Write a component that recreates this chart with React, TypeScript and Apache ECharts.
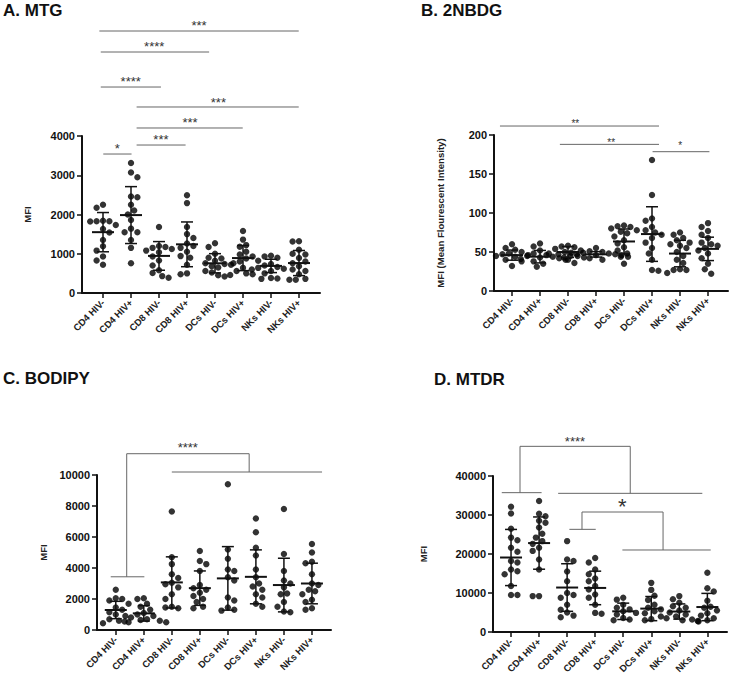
import { useEffect, useRef } from "react";
import * as echarts from "echarts";

const categories = ["CD4 HIV-", "CD4 HIV+", "CD8 HIV-", "CD8 HIV+", "DCs HIV-", "DCs HIV+", "NKs HIV-", "NKs HIV+"];

// ---------- A. MTG ----------
const mtgValues: number[][] = [
  [2250, 2170, 1840, 1830, 1830, 1820, 1730, 1630, 1540, 1350, 1190, 1080, 930, 830, 720],
  [3310, 3070, 2950, 2460, 2440, 2250, 2100, 2000, 1860, 1640, 1550, 1550, 1350, 1150, 760],
  [1680, 1200, 1170, 1150, 1120, 1080, 1040, 930, 830, 700, 580, 510, 430, 390],
  [2490, 2290, 1680, 1500, 1400, 1260, 1200, 1150, 1050, 940, 900, 720, 500, 480],
  [1270, 1170, 1000, 900, 880, 820, 760, 740, 720, 680, 650, 560, 520, 450, 420],
  [1580, 1360, 1220, 1180, 1050, 980, 930, 880, 800, 760, 640, 560, 500, 480, 460],
  [950, 930, 900, 820, 740, 700, 660, 640, 620, 600, 560, 500, 380, 370, 360],
  [1320, 1310, 1100, 1000, 980, 890, 800, 760, 680, 600, 560, 480, 360, 340, 340],
];
const mtgMeans = [1550, 1985, 945, 1240, 757, 890, 690, 763];
const mtgSD = [500, 725, 365, 570, 245, 320, 170, 320];
const mtgLines: number[][][] = [
  [[0.01, 3541], [1.02, 3541]],
  [[1.2, 3770], [2.95, 3770]],
  [[1.2, 4204], [4.99, 4204]],
  [[1.2, 4739], [6.99, 4739]],
  [[-0.08, 5248], [2.07, 5248]],
  [[-0.08, 6140], [3.79, 6140]],
  [[-0.13, 6675], [6.99, 6675]],
];
const mtgStars: [number, number, string][] = [
  [0.51, 3753, "*"],
  [2.07, 3982, "***"],
  [3.11, 4408, "***"],
  [4.12, 4935, "***"],
  [0.99, 5452, "****"],
  [1.83, 6352, "****"],
  [3.43, 6886, "***"],
];

// ---------- B. 2NBDG ----------
const nbdgValues: number[][] = [
  [60, 55, 53, 50, 48, 47, 46, 45, 44, 42, 40, 38, 32],
  [61, 57, 52, 48, 46, 45, 44, 43, 42, 41, 40, 38, 35, 31],
  [58, 57, 56, 54, 52, 50, 49, 48, 47, 45, 43, 40, 36],
  [55, 51, 50, 49, 48, 47, 47, 46, 46, 45, 44, 43, 42, 40],
  [84, 83, 82, 80, 78, 76, 74, 70, 65, 61, 56, 52, 48, 44, 35],
  [168, 123, 93, 90, 82, 78, 75, 72, 68, 62, 55, 48, 40, 27, 26],
  [75, 72, 68, 65, 62, 60, 58, 55, 50, 45, 40, 36, 28, 27, 27, 23],
  [87, 82, 77, 72, 68, 62, 60, 58, 55, 52, 48, 42, 35, 28, 22],
];
const nbdgMeans = [46, 44, 50, 47, 63.5, 73, 48, 54];
const nbdgSD = [6.5, 8, 7, 3.5, 16, 35, 17, 15];
const nbdgLines: number[][][] = [
  [[-0.43, 211.5], [5.25, 211.5]],
  [[1.71, 188], [5.25, 188]],
  [[5.02, 178.6], [7.05, 178.6]],
];
const nbdgStars: [number, number, string][] = [
  [2.26, 217, "**"],
  [3.54, 193.6, "**"],
  [6.01, 189, "*"],
];

// ---------- C. BODIPY ----------
const bodipyValues: number[][] = [
  [2600, 2050, 2000, 1900, 1700, 1450, 1300, 1150, 1000, 900, 700, 600, 500, 430],
  [2050, 2000, 1700, 1500, 1300, 1100, 1000, 900, 800, 700, 650, 600, 550, 500],
  [7640, 4700, 4250, 3600, 3350, 3050, 2950, 2750, 2300, 2000, 1500, 1450, 1400],
  [5100, 4450, 4250, 3800, 2900, 2700, 2600, 2400, 2200, 2000, 1800, 1500, 1400],
  [9400, 5200, 4600, 3900, 3800, 3400, 3200, 2100, 1900, 1450, 1300, 1250],
  [7200, 6300, 5300, 4800, 3900, 3400, 3000, 2800, 2600, 2300, 2100, 1700, 1500],
  [7800, 4900, 3800, 3200, 3000, 2750, 2350, 2300, 1800, 1500, 1200, 1150],
  [5550, 5000, 4400, 4300, 3600, 3000, 2900, 2600, 2500, 2300, 1950, 1800, 1400, 1300],
];
const bodipyMeans = [1290, 1073, 3070, 2700, 3330, 3430, 2900, 3000];
const bodipySD = [560, 500, 1650, 1110, 2050, 1740, 1730, 1310];
const bodipyLines: number[][][] = [
  [[-0.18, 3433], [1.02, 3433]],
  [[0.39, 3433], [0.39, 11373], [4.76, 11373], [4.76, 10193]],
  [[2.0, 10193], [7.36, 10193]],
];
const bodipyStars: [number, number, string][] = [[2.57, 11932, "****"]];

// ---------- D. MTDR ----------
const mtdrValues: number[][] = [
  [32100, 30400, 26500, 24200, 23500, 21600, 20600, 18200, 17800, 16000, 15600, 14800, 11800, 9500, 9500],
  [33600, 30300, 29700, 28500, 28000, 26800, 25200, 24200, 23300, 22600, 21600, 20800, 18600, 16000, 9200, 9200],
  [23300, 18600, 18200, 15500, 13000, 10000, 9500, 8800, 7000, 5700, 5000, 4200, 3800],
  [19000, 17800, 16000, 14800, 13700, 13000, 11800, 10900, 9600, 8800, 7000, 4900, 4700],
  [8800, 8300, 7000, 6200, 5800, 5300, 4900, 4500, 3600, 3200, 3000],
  [12600, 10800, 9300, 8200, 7000, 6200, 5800, 5300, 4800, 4000, 3300, 3000],
  [9200, 8400, 7500, 6600, 6200, 5500, 5000, 4500, 4000, 3500, 3200, 3000, 2700],
  [15200, 11200, 10400, 8000, 6500, 6200, 5500, 4800, 4200, 3500, 3000, 2800],
];
const mtdrMeans = [19100, 22800, 11400, 11300, 5300, 6000, 5250, 6400];
const mtdrSD = [7200, 6700, 6100, 4300, 2100, 3100, 1950, 3500];
const mtdrLines: number[][][] = [
  [[-0.33, 35726], [1.09, 35726]],
  [[0.32, 35726], [0.32, 47607], [4.25, 47607], [4.25, 35556]],
  [[1.68, 35556], [6.82, 35556]],
  [[2.08, 26325], [3.02, 26325]],
  [[2.53, 26325], [2.53, 30769], [5.42, 30769], [5.42, 21026]],
  [[3.97, 21026], [7.12, 21026]],
];
const mtdrStars: [number, number, string][] = [
  [2.28, 49658, "****"],
  [3.97, 33419, "*"],
];

const FONT = "'Liberation Sans', Arial, Helvetica, sans-serif";

type Layout = {
  title: string;
  titleLeft: number;
  titleTop: number;
  grid: { left: number; top: number; width: number; height: number };
  xMin: number;
  xMax: number;
  yMax: number;
  yInterval: number;
  yName: string;
  nameGap: number;
  nameSize: number;
  starFonts: number[];
};

const panels = [
  { values: mtgValues, means: mtgMeans, sd: mtgSD, lines: mtgLines, stars: mtgStars },
  { values: nbdgValues, means: nbdgMeans, sd: nbdgSD, lines: nbdgLines, stars: nbdgStars },
  { values: bodipyValues, means: bodipyMeans, sd: bodipySD, lines: bodipyLines, stars: bodipyStars },
  { values: mtdrValues, means: mtdrMeans, sd: mtdrSD, lines: mtdrLines, stars: mtdrStars },
];

const layouts: Layout[] = [
  { title: "A. MTG", titleLeft: 3, titleTop: 2, grid: { left: 82, top: 136, width: 238, height: 157 }, xMin: -0.75, xMax: 7.75, yMax: 4000, yInterval: 1000, yName: "MFI", nameGap: 50, nameSize: 9.5, starFonts: [13, 13, 13, 13, 13, 13, 13] },
  { title: "B. 2NBDG", titleLeft: 421, titleTop: 2, grid: { left: 494, top: 135, width: 234, height: 156 }, xMin: -0.643, xMax: 7.714, yMax: 200, yInterval: 50, yName: "MFI (Mean Flourescent Intensity)", nameGap: 49, nameSize: 9.6, starFonts: [10, 10, 10] },
  { title: "C. BODIPY", titleLeft: 3, titleTop: 370, grid: { left: 97, top: 475, width: 234, height: 155 }, xMin: -0.67, xMax: 7.68, yMax: 10000, yInterval: 2000, yName: "MFI", nameGap: 49, nameSize: 9.5, starFonts: [13] },
  { title: "D. MTDR", titleLeft: 434, titleTop: 371, grid: { left: 493, top: 476, width: 234, height: 156 }, xMin: -0.643, xMax: 7.7, yMax: 40000, yInterval: 10000, yName: "MFI", nameGap: 65, nameSize: 9.5, starFonts: [13, 22] },
];

const DOT = 6.4;

function swarm(vals: number[], pxPerY: number, pxPerX: number): number[][] {
  const sorted = [...vals].sort((a, b) => b - a);
  const placed: { x: number; y: number }[] = [];
  const out: number[][] = [];
  const step = DOT * 0.5;
  sorted.forEach((v, idx) => {
    const y = v * pxPerY;
    let chosen = 0;
    const dir = idx % 2 === 0 ? 1 : -1;
    for (let k = 0; k < 30; k++) {
      const cand = k === 0 ? 0 : (k % 2 ? dir : -dir) * Math.ceil(k / 2) * step;
      if (placed.every((p) => Math.hypot(p.x - cand, p.y - y) >= DOT * 0.98)) {
        chosen = cand;
        break;
      }
    }
    placed.push({ x: chosen, y });
    out.push([chosen / pxPerX, v]);
  });
  return out;
}

function buildOption() {
  const grids: any[] = [];
  const xAxes: any[] = [];
  const yAxes: any[] = [];
  const titles: any[] = [];
  const series: any[] = [];
  const ticks = categories.map((_, i) => i);

  panels.forEach((p, pi) => {
    const L = layouts[pi];
    grids.push({ ...L.grid, containLabel: false, outerBoundsMode: "none" });
    titles.push({
      text: L.title,
      left: L.titleLeft,
      top: L.titleTop,
      padding: 0,
      textStyle: { fontFamily: FONT, fontSize: 17, fontWeight: "bold", color: "#111" },
    });
    xAxes.push({
      type: "value",
      gridIndex: pi,
      min: L.xMin,
      max: L.xMax,
      splitLine: { show: false },
      axisLine: { show: true, onZero: false, lineStyle: { color: "#111", width: 2 } },
      axisTick: { show: true, customValues: ticks, length: 5, lineStyle: { color: "#111", width: 1.5 } },
      axisLabel: {
        show: true,
        customValues: ticks,
        formatter: (v: number) => categories[Math.round(v)] ?? "",
        rotate: 45,
        margin: 8,
        fontFamily: FONT,
        fontSize: 9.5,
        fontWeight: "bold",
        color: "#222",
      },
    });
    yAxes.push({
      type: "value",
      gridIndex: pi,
      min: 0,
      max: L.yMax,
      interval: L.yInterval,
      splitLine: { show: false },
      axisLine: { show: true, onZero: false, lineStyle: { color: "#111", width: 2 } },
      axisTick: { show: true, length: 5, lineStyle: { color: "#111", width: 1.5 } },
      axisLabel: {
        fontFamily: FONT,
        fontSize: 11,
        fontWeight: "bold",
        color: "#111",
        margin: 7,
        formatter: (v: number) => String(v),
      },
      name: L.yName,
      nameLocation: "middle",
      nameRotate: 90,
      nameGap: L.nameGap,
      nameTextStyle: { fontFamily: FONT, fontSize: L.nameSize, fontWeight: "bold", color: "#222" },
    });

    const pxPerY = L.grid.height / L.yMax;
    const pxPerX = L.grid.width / (L.xMax - L.xMin);
    const pts: number[][] = [];
    p.values.forEach((vals, gi) => {
      swarm(vals, pxPerY, pxPerX).forEach(([dx, v]) => pts.push([gi + dx, v]));
    });
    series.push({
      type: "scatter",
      xAxisIndex: pi,
      yAxisIndex: pi,
      data: pts,
      symbol: "circle",
      symbolSize: DOT,
      itemStyle: { color: "#000" },
      z: 3,
    });

    series.push({
      type: "custom",
      xAxisIndex: pi,
      yAxisIndex: pi,
      data: p.means.map((m, i) => [i, m, p.sd[i]]),
      encode: { x: 0, y: 1 },
      z: 4,
      renderItem: (_params: any, api: any) => {
        const i = api.value(0);
        const m = api.value(1);
        const s = api.value(2);
        const c = api.coord([i, m]);
        const t = api.coord([i, m + s]);
        const b = api.coord([i, Math.max(0, m - s)]);
        const st = { stroke: "#111", lineWidth: 1.5 };
        return {
          type: "group",
          children: [
            { type: "line", shape: { x1: c[0], y1: t[1], x2: c[0], y2: b[1] }, style: st },
            { type: "line", shape: { x1: c[0] - 6, y1: t[1], x2: c[0] + 6, y2: t[1] }, style: st },
            { type: "line", shape: { x1: c[0] - 6, y1: b[1], x2: c[0] + 6, y2: b[1] }, style: st },
            { type: "line", shape: { x1: c[0] - 11, y1: c[1], x2: c[0] + 11, y2: c[1] }, style: { stroke: "#111", lineWidth: 2 } },
          ],
        };
      },
    });

    const lines = p.lines;
    series.push({
      type: "custom",
      xAxisIndex: pi,
      yAxisIndex: pi,
      data: lines.map((l) => [l[0][0], l[0][1]]),
      encode: { x: 0, y: 1 },
      clip: false,
      z: 2,
      renderItem: (params: any, api: any) => {
        const l = lines[params.dataIndex];
        const points = l.map((q) => api.coord(q));
        return {
          type: "polyline",
          shape: { points },
          style: { stroke: "#666", lineWidth: 1, fill: "none" },
        };
      },
    });

    const stars = p.stars;
    series.push({
      type: "custom",
      xAxisIndex: pi,
      yAxisIndex: pi,
      data: stars.map((s) => [s[0], s[1]]),
      encode: { x: 0, y: 1 },
      clip: false,
      z: 2,
      renderItem: (params: any, api: any) => {
        const s = stars[params.dataIndex];
        const fs = L.starFonts[params.dataIndex] ?? 13;
        const c = api.coord([s[0], s[1]]);
        return {
          type: "text",
          x: c[0],
          y: c[1] + fs * 0.22,
          style: {
            text: s[2],
            fontSize: fs,
            fontFamily: FONT,
            fill: "#333",
            align: "center",
            verticalAlign: "middle",
          },
        };
      },
    });
  });

  return {
    animation: false,
    backgroundColor: "#fff",
    textStyle: { fontFamily: FONT },
    title: titles,
    grid: grids,
    xAxis: xAxes,
    yAxis: yAxes,
    series,
  };
}

export default function App() {
  const ref = useRef<HTMLDivElement>(null);
  useEffect(() => {
    if (!ref.current) return;
    const chart = echarts.init(ref.current, undefined, { renderer: "svg" });
    chart.setOption(buildOption() as any);
    return () => chart.dispose();
  }, []);
  return <div ref={ref} style={{ position: "absolute", left: 0, top: 0, width: 732, height: 682 }} />;
}
